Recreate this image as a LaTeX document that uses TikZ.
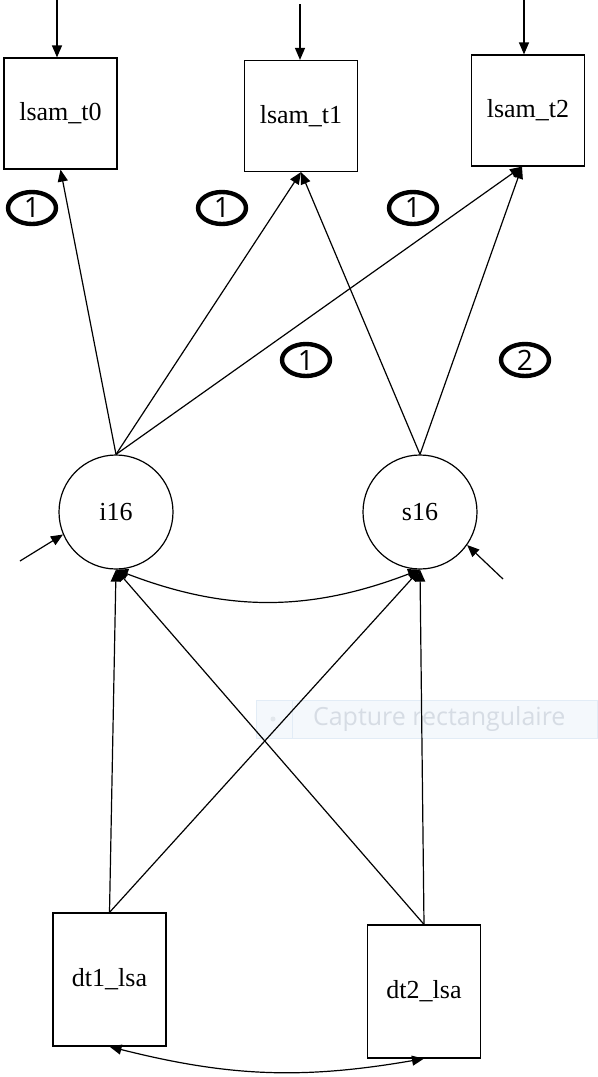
\documentclass[tikz,border=0pt]{standalone}
\usepackage{fontspec}
\setmainfont{Liberation Serif}
\newfontfamily\numfont{Open Sans}
\usetikzlibrary{shapes.geometric, arrows.meta}
\definecolor{capfill}{RGB}{244, 248, 252}
\definecolor{capline}{RGB}{226, 236, 246}
\definecolor{captxt}{RGB}{214, 220, 228}

\begin{document}
\begin{tikzpicture}[
    x=0.5pt, y=-0.5pt,
    font=\fontsize{13}{15}\selectfont,
    obs/.style={draw, line width=0.6pt, minimum width=56.5pt, minimum height=55.5pt, inner sep=0pt},
    obsb/.style={obs, minimum height=66.5pt},
    lat/.style={draw, line width=0.6pt, circle, minimum size=57pt, inner sep=0pt},
    path/.style={line width=0.6pt, -{Triangle[length=6pt, width=5pt]}},
    cov/.style={line width=0.6pt, {Triangle[length=6pt, width=5pt]}-{Triangle[length=6pt, width=5pt]}},
    fixed/.style={draw, ellipse, line width=2.2pt, minimum width=24pt, minimum height=16pt, inner sep=0pt,
        font=\numfont\fontsize{14}{15}\selectfont},
]
\useasboundingbox (0,0) rectangle (598,1077);

% --- screen capture banner (faint) ---
\draw[capline, fill=capfill] (256,700) rectangle (597,738);
\draw[capline] (292,700) -- (292,738);
\fill[captxt!70] (273,719) circle (2.5);
\node[captxt, font=\numfont\fontsize{12.5}{14}\selectfont, anchor=west] (captext) at (306,719)
    {Capture rectangulaire};

% --- indicators ---
\node[obs] (t0) at (60.5,113.5) {lsam\_t0};
\node[obs] (t1) at (301,116) {lsam\_t1};
\node[obs] (t2) at (528,110.5) {lsam\_t2};

% --- growth factors ---
\node[lat] (i16) at (116,512) {i16};
\node[lat] (s16) at (420,512) {s16};

% --- predictors ---
\node[obsb] (dt1) at (109.5,979.5) {dt1\_lsa};
\node[obsb] (dt2) at (424,991.5) {dt2\_lsa};

% --- fixed loadings ---
\node[fixed] (l1) at (32,208) {1};
\node[fixed] (l2) at (222,208) {1};
\node[fixed] (l3) at (413,208) {1};
\node[fixed] (l4) at (306,360) {1};
\node[fixed] (l5) at (525,360) {2};

% --- error terms ---
\coordinate (e0) at (57,0);
\coordinate (e1) at (300,4);
\coordinate (e2) at (524,0);
\coordinate (di) at (20,561);
\coordinate (ds) at (503,579);

\draw[path] (e0) -- (e0 |- t0.north);
\draw[path] (e1) -- (e1 |- t1.north);
\draw[path] (e2) -- (e2 |- t2.north);
\draw[path] (di) -- (i16.203);
\draw[path] (ds) -- (s16.-35);

% --- loadings ---
\draw[path] (i16.north) -- (t0.south);
\draw[path] (i16.north) -- (t1.south);
\draw[path] (i16.north) -- ([xshift=-3]t2.south);
\draw[path] (s16.north) -- (t1.south);
\draw[path] (s16.north) -- ([xshift=-3]t2.south);

% --- regressions ---
\draw[path] (dt1.north) -- (i16.south);
\draw[path] (dt1.north) -- (s16.south);
\draw[path] (dt2.north) -- (i16.south);
\draw[path] (dt2.north) -- (s16.south);

% --- covariances ---
\draw[cov] (i16.south) to[bend right=21] (s16.south);
\draw[cov] (dt1.south) to[bend right=12] (dt2.south);

\end{tikzpicture}
\end{document}
